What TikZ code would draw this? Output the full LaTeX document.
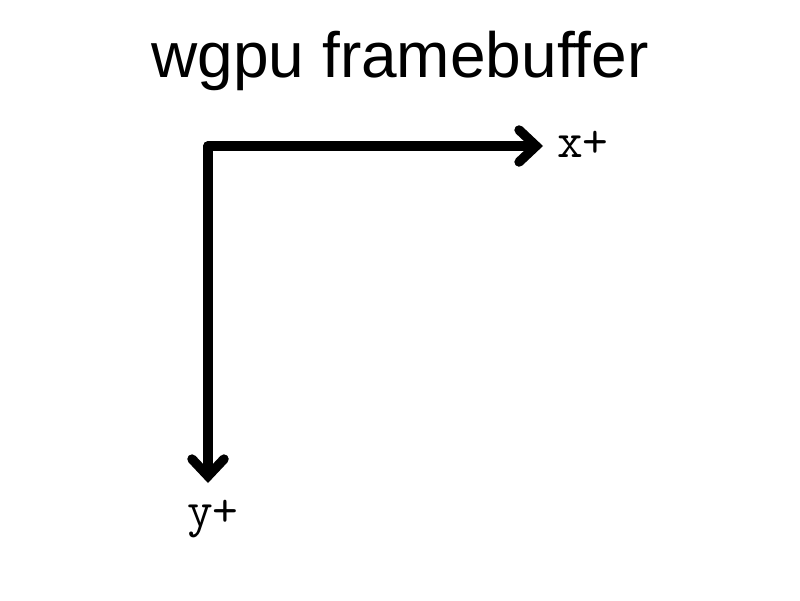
\documentclass[tikz,border=0pt]{standalone}
\usepackage{fontspec}
\setmainfont{Liberation Sans}
\usetikzlibrary{arrows.meta}

\begin{document}
\begin{tikzpicture}[x=1pt, y=-1pt,
    axis/.style={line width=9.5pt, line cap=round, -{Straight Barb[length=17pt, width=32pt, line cap=round]}},
    axislabel/.style={anchor=base west, inner sep=0pt, font=\fontsize{50}{56}\selectfont\ttfamily}]
    \useasboundingbox (0, 0) rectangle (800, 600);
    \node[anchor=base, inner sep=0pt, font=\fontsize{64}{70}\selectfont] (title) at (400, 77) {wgpu framebuffer};
    \coordinate (origin) at (208, 146);
    \coordinate (xend) at (543, 146);
    \coordinate (yend) at (208, 483);
    \draw[axis] (origin) -- (xend);
    \draw[axis] (origin) -- (yend);
    \node[axislabel] (xlabel) at (557, 157) {x+};
    \node[axislabel] (ylabel) at (187, 526) {y+};
\end{tikzpicture}
\end{document}
